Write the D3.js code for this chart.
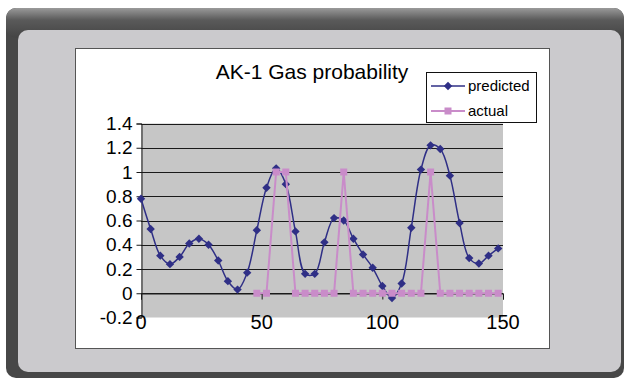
<!DOCTYPE html>
<html>
<head>
<meta charset="utf-8">
<script src="https://cdn.jsdelivr.net/npm/d3@7"></script>
<style>
  html, body { margin: 0; padding: 0; background: #fff; }
  svg { display: block; font-family: "Liberation Sans", Arial, sans-serif; }
</style>
</head>
<body>
<svg width="624" height="378"></svg>
<script>
var svg = d3.select('svg');

// data
var titleText = "AK-1 Gas probability";
var predX = [0,4,8,12,16,20,24,28,32,36,40,44,48,52,56,60,64,68,72,76,80,84,88,92,96,100,104,108,112,116,120,124,128,132,136,140,144,148];
var predicted = [0.78,0.53,0.31,0.24,0.30,0.41,0.45,0.40,0.27,0.10,0.03,0.17,0.52,0.87,1.03,0.90,0.51,0.16,0.16,0.42,0.62,0.60,0.45,0.32,0.21,0.06,-0.04,0.08,0.54,1.02,1.22,1.19,0.97,0.58,0.29,0.245,0.31,0.37];
var actX = [48,52,56,60,64,68,72,76,80,84,88,92,96,100,104,108,112,116,120,124,128,132,136,140,144,148];
var actual = [0,0,1,1,0,0,0,0,0,1,0,0,0,0,0,0,0,0,1,0,0,0,0,0,0,0];
var xTicks = [0, 50, 100, 150];
var yTicks = [-0.2, 0, 0.2, 0.4, 0.6, 0.8, 1, 1.2, 1.4];
var yLabels = ["-0.2", "0", "0.2", "0.4", "0.6", "0.8", "1", "1.2", "1.4"];
var seriesNames = ["predicted", "actual"];

var navy = '#2f2f86';
var pink = '#c98cc9';

// frame
var defs = svg.append('defs');
var g1 = defs.append('linearGradient').attr('id', 'topband').attr('x1', 0).attr('y1', 0).attr('x2', 0).attr('y2', 1);
g1.append('stop').attr('offset', '0%').attr('stop-color', '#9a9a9a');
g1.append('stop').attr('offset', '40%').attr('stop-color', '#5a5a5a');
g1.append('stop').attr('offset', '100%').attr('stop-color', '#444');

svg.append('rect').attr('x', 6).attr('y', 8).attr('width', 618).attr('height', 370)
    .attr('rx', 10).attr('fill', '#474747');
svg.append('rect').attr('x', 6).attr('y', 8).attr('width', 618).attr('height', 30)
    .attr('rx', 10).attr('fill', 'url(#topband)');
svg.append('rect').attr('x', 18).attr('y', 30).attr('width', 603).attr('height', 342)
    .attr('rx', 10).attr('fill', '#cbcacd');

// chart box
svg.append('rect').attr('x', 75.5).attr('y', 48.5).attr('width', 474).attr('height', 300)
    .attr('fill', '#fff').attr('stroke', '#555').attr('stroke-width', 1);

var x = d3.scaleLinear().domain([0, 150]).range([141, 503]);
var y = d3.scaleLinear().domain([-0.2, 1.4]).range([317.5, 123.5]);

// plot area
svg.append('rect').attr('x', x(0)).attr('y', y(1.4)).attr('width', x(150) - x(0)).attr('height', y(-0.2) - y(1.4))
    .attr('fill', '#c6c6c6');

// gridlines
svg.append('g').selectAll('line')
    .data(yTicks.filter(function(d) { return d > -0.2; }))
    .enter().append('line')
    .attr('x1', x(0)).attr('x2', x(150))
    .attr('y1', function(d) { return Math.round(y(d)) + 0.5; })
    .attr('y2', function(d) { return Math.round(y(d)) + 0.5; })
    .attr('stroke', '#1a1a1a').attr('stroke-width', 1.2);

// y axis
var yAxis = d3.axisLeft(y).tickValues(yTicks).tickSize(5).tickPadding(4)
    .tickFormat(function(d, i) { return yLabels[i]; });
var ya = svg.append('g').attr('transform', 'translate(' + (x(0) + 0.5) + ',0)').call(yAxis);
ya.select('.domain').attr('stroke', '#1a1a1a');
ya.selectAll('line').attr('stroke', '#1a1a1a');
ya.selectAll('text').attr('font-size', 19).attr('fill', '#000')
    .attr('font-family', '"Liberation Sans", Arial, sans-serif');

// x axis at y = 0, labels low
var xa = svg.append('g').attr('transform', 'translate(0,' + (Math.round(y(0)) + 0.5) + ')')
    .call(d3.axisBottom(x).tickValues(xTicks).tickSize(6).tickFormat(''));
xa.select('.domain').attr('stroke', '#1a1a1a');
xa.selectAll('line').attr('stroke', '#1a1a1a');

svg.append('g').selectAll('text')
    .data(xTicks)
    .enter().append('text')
    .attr('x', function(d) { return x(d); })
    .attr('y', 329)
    .attr('text-anchor', 'middle')
    .attr('font-size', 20)
    .text(function(d) { return d; });

// predicted series
var predData = predX.map(function(d, i) { return { x: d, y: predicted[i] }; });
var actData = actX.map(function(d, i) { return { x: d, y: actual[i] }; });

var smooth = d3.line().x(function(d) { return x(d.x); }).y(function(d) { return y(d.y); })
    .curve(d3.curveCatmullRom.alpha(0.5));
var straight = d3.line().x(function(d) { return x(d.x); }).y(function(d) { return y(d.y); });

svg.append('path').datum(predData).attr('d', smooth)
    .attr('fill', 'none').attr('stroke', navy).attr('stroke-width', 1.5);

var diamond = 'M0,-4.2L4.2,0L0,4.2L-4.2,0Z';
svg.append('g').selectAll('path')
    .data(predData)
    .enter().append('path')
    .attr('d', diamond)
    .attr('transform', function(d) { return 'translate(' + x(d.x) + ',' + y(d.y) + ')'; })
    .attr('fill', navy);

// actual series
svg.append('path').datum(actData).attr('d', straight)
    .attr('fill', 'none').attr('stroke', pink).attr('stroke-width', 2);

svg.append('g').selectAll('rect')
    .data(actData)
    .enter().append('rect')
    .attr('x', function(d) { return x(d.x) - 3.5; })
    .attr('y', function(d) { return y(d.y) - 3.5; })
    .attr('width', 7).attr('height', 7)
    .attr('fill', pink);

// title
svg.append('text').attr('x', 312).attr('y', 79).attr('text-anchor', 'middle')
    .attr('font-size', 21).text(titleText);

// legend
var lg = svg.append('g');
lg.append('rect').attr('x', 426.5).attr('y', 72.5).attr('width', 110).attr('height', 50)
    .attr('fill', '#fff').attr('stroke', '#111').attr('stroke-width', 1);
var lgY = [86, 111];
var lgCol = [navy, pink];
seriesNames.forEach(function(name, i) {
    lg.append('line').attr('x1', 431).attr('x2', 465).attr('y1', lgY[i]).attr('y2', lgY[i])
        .attr('stroke', lgCol[i]).attr('stroke-width', i === 0 ? 1.5 : 2);
    if (i === 0) {
        lg.append('path').attr('d', diamond).attr('transform', 'translate(448,' + lgY[i] + ')').attr('fill', navy);
    } else {
        lg.append('rect').attr('x', 444.5).attr('y', lgY[i] - 3.5).attr('width', 7).attr('height', 7).attr('fill', pink);
    }
    lg.append('text').attr('x', 468).attr('y', lgY[i]).attr('dy', '0.35em')
        .attr('font-size', 15).text(name);
});
</script>
</body>
</html>
